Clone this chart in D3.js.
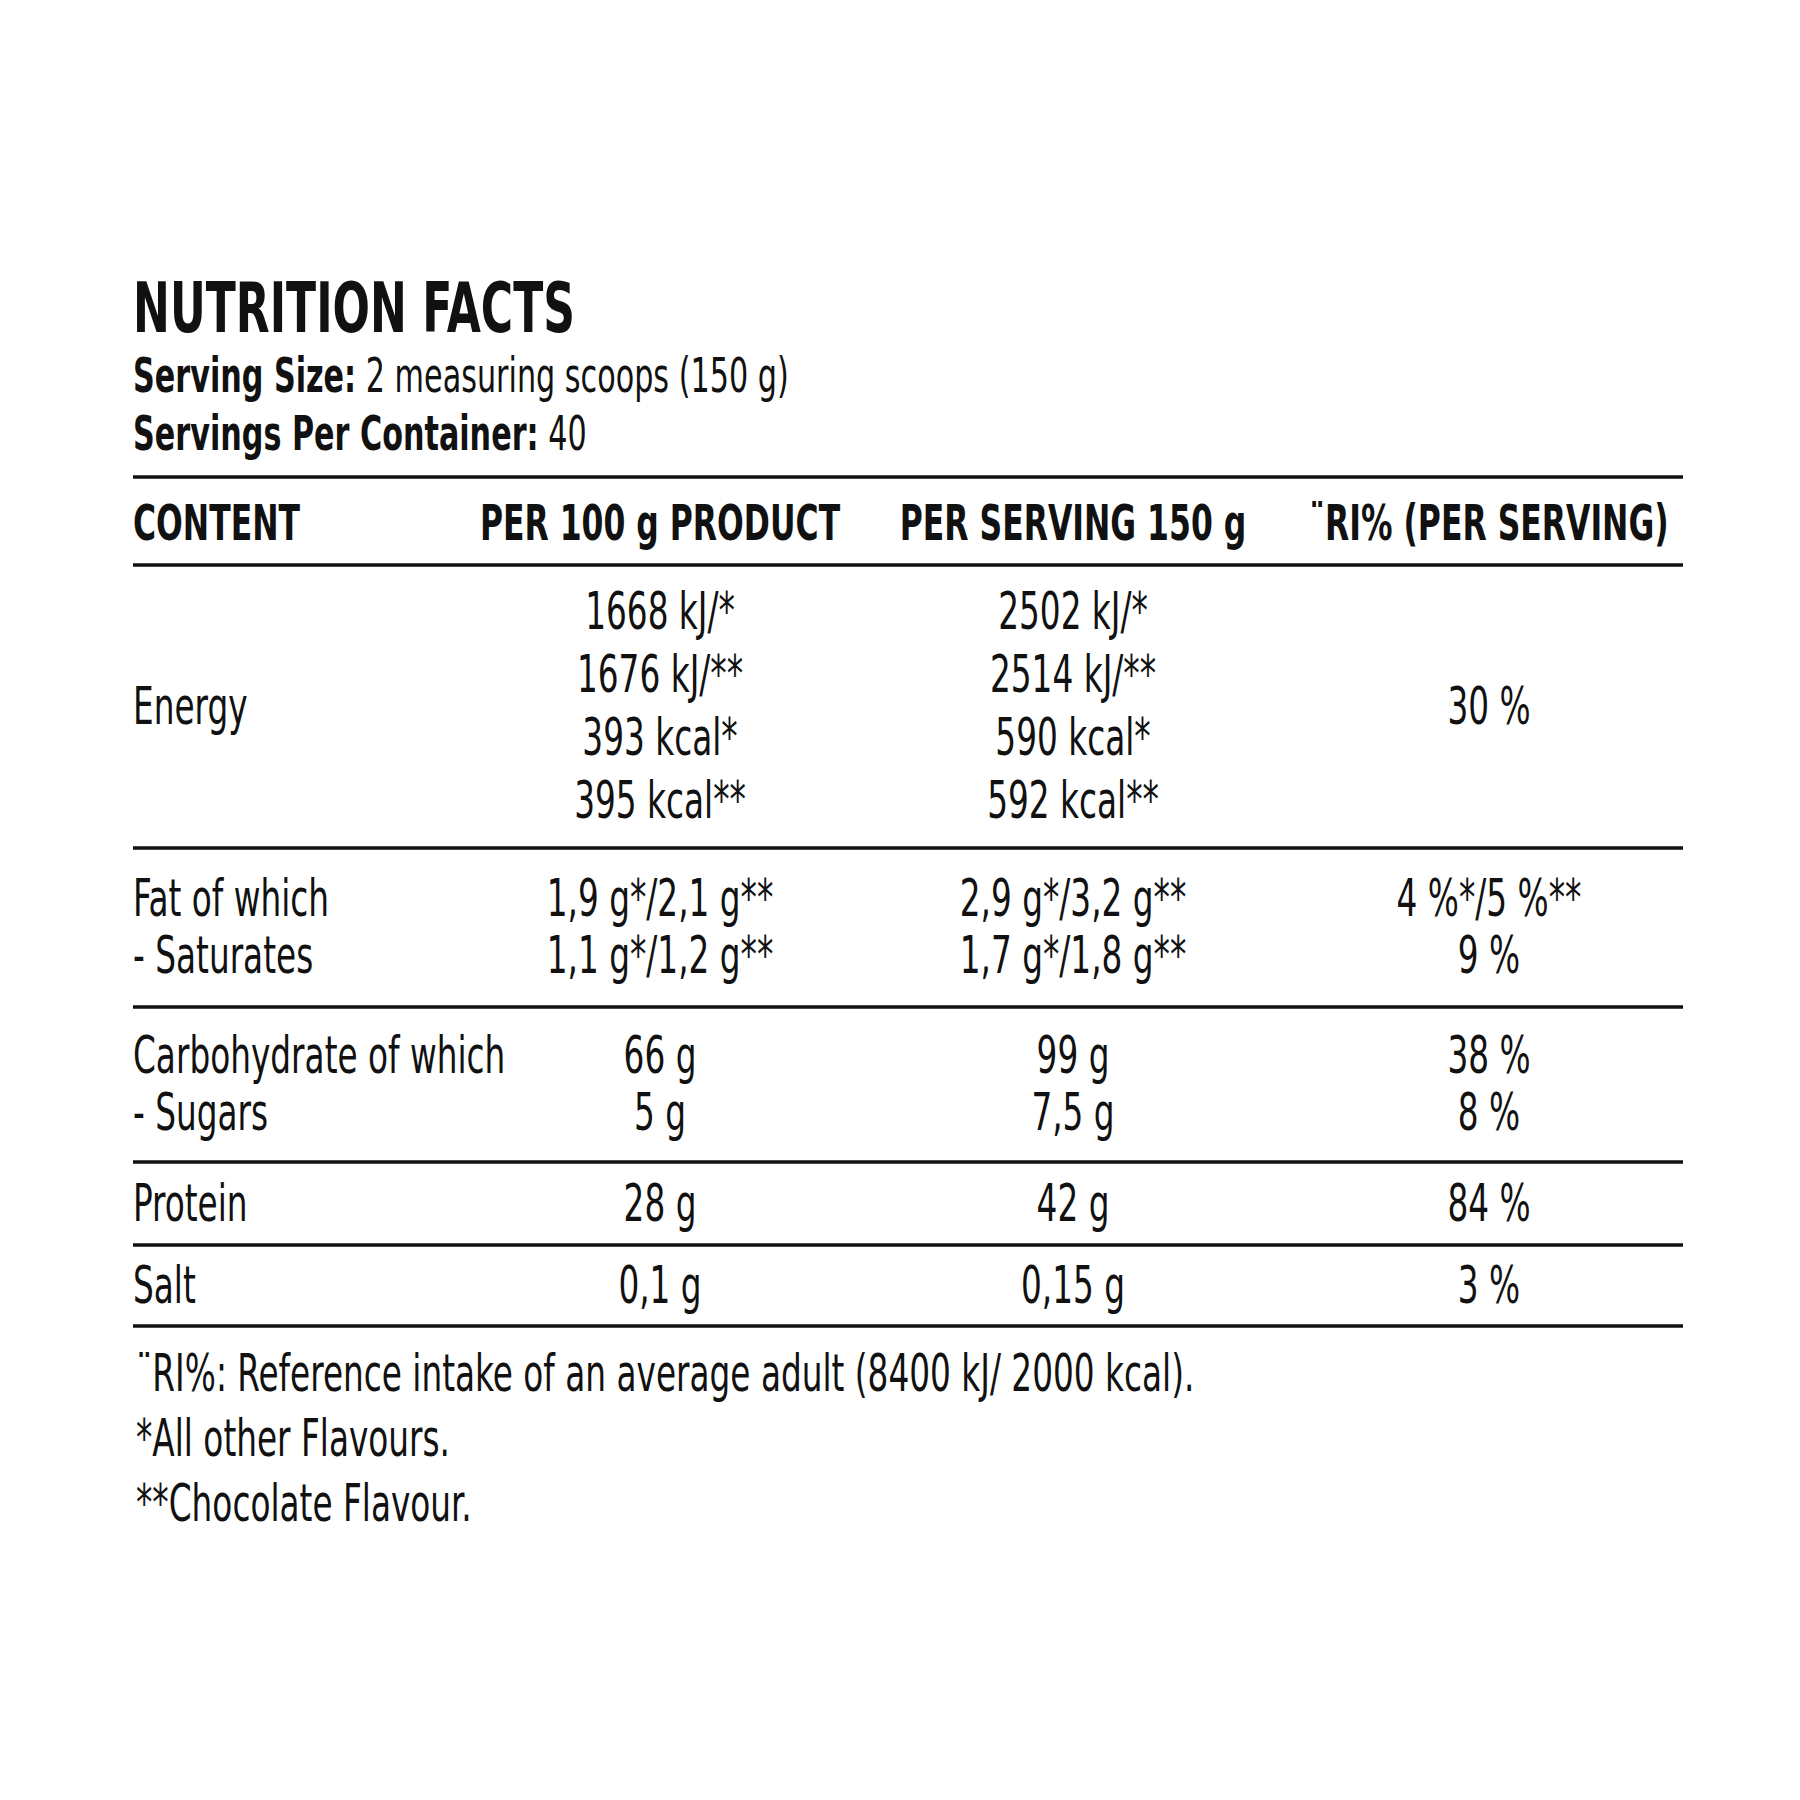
<!DOCTYPE html>
<html>
<head>
<meta charset="utf-8">
<title>Nutrition Facts</title>
<script src="https://cdn.jsdelivr.net/npm/d3@7"></script>
<style>
  body { margin: 0; background: #fff; }
  text { font-family: "Liberation Sans Narrow", "DejaVu Sans Condensed", sans-serif; fill: #111; }
</style>
</head>
<body>
<div id="chart"></div>
<script>
// data
const title = "NUTRITION FACTS";
const servingInfo = [["Serving Size:", " 2 measuring scoops (150 g)"], ["Servings Per Container:", " 40"]];
const headers = ["CONTENT", "PER 100 g PRODUCT", "PER SERVING 150 g", "\u00A8RI% (PER SERVING)"];
const rowLabels = [["Energy"], ["Fat of which", "- Saturates"], ["Carbohydrate of which", "- Sugars"], ["Protein"], ["Salt"]];
const per100 = [["1668 kJ/*", "1676 kJ/**", "393 kcal*", "395 kcal**"], ["1,9 g*/2,1 g**", "1,1 g*/1,2 g**"], ["66 g", "5 g"], ["28 g"], ["0,1 g"]];
const perServing = [["2502 kJ/*", "2514 kJ/**", "590 kcal*", "592 kcal**"], ["2,9 g*/3,2 g**", "1,7 g*/1,8 g**"], ["99 g", "7,5 g"], ["42 g"], ["0,15 g"]];
const riPercent = [["30 %"], ["4 %*/5 %**", "9 %"], ["38 %", "8 %"], ["84 %"], ["3 %"]];
const footnotes = ["\u00A8RI%: Reference intake of an average adult (8400 kJ/ 2000 kcal).", "*All other Flavours.", "**Chocolate Flavour."];

const width = 1800, height = 1800;
const left = 133, right = 1683;
const sx = 0.70;

const svg = d3.select("#chart").append("svg")
  .attr("width", width).attr("height", height)
  .attr("viewBox", [0, 0, width, height]);

function txt(x, y, s, size, weight, anchor) {
  return svg.append("text")
    .attr("transform", `translate(${x},${y}) scale(${sx},1)`)
    .attr("font-size", size)
    .attr("font-weight", weight || "normal")
    .attr("text-anchor", anchor || "start")
    .text(s);
}
function rule(y) {
  svg.append("line").attr("x1", left).attr("x2", right).attr("y1", y).attr("y2", y)
    .attr("stroke", "#111").attr("stroke-width", 3.5);
}

txt(left, 332, title, 70, "bold");
servingInfo.forEach((d, i) => {
  const t = txt(left, 392 + i * 58, "", 48);
  t.append("tspan").attr("font-weight", "bold").text(d[0]);
  t.append("tspan").text(d[1]);
});

// columns
const cols = d3.scaleOrdinal().domain([1, 2, 3]).range([660, 1073, 1489]);
rule(477);
txt(left, 540, headers[0], 50, "bold");
headers.slice(1).forEach((h, i) => txt(cols(i + 1), 540, h, 50, "bold", "middle"));
rule(565);

// row layout
const rowTops = [565, 848, 1007, 1162, 1245];
const rowBottoms = [848, 1007, 1162, 1245, 1326];
const lineGap = [63, 57, 57, 57, 57];
rowLabels.forEach((labels, r) => {
  const mid = (rowTops[r] + rowBottoms[r]) / 2;
  const lineY = (k, n) => mid + (k - (n - 1) / 2) * lineGap[r] + 17;
  labels.forEach((l, k) => txt(left, lineY(k, labels.length), l, 52));
  per100[r].forEach((v, k) => txt(cols(1), lineY(k, per100[r].length), v, 52, "normal", "middle"));
  perServing[r].forEach((v, k) => txt(cols(2), lineY(k, perServing[r].length), v, 52, "normal", "middle"));
  riPercent[r].forEach((v, k) => txt(cols(3), lineY(k, riPercent[r].length), v, 52, "normal", "middle"));
  rule(rowBottoms[r]);
});

footnotes.forEach((f, i) => txt(136, 1391 + i * 65, f, 52));
</script>
</body>
</html>
